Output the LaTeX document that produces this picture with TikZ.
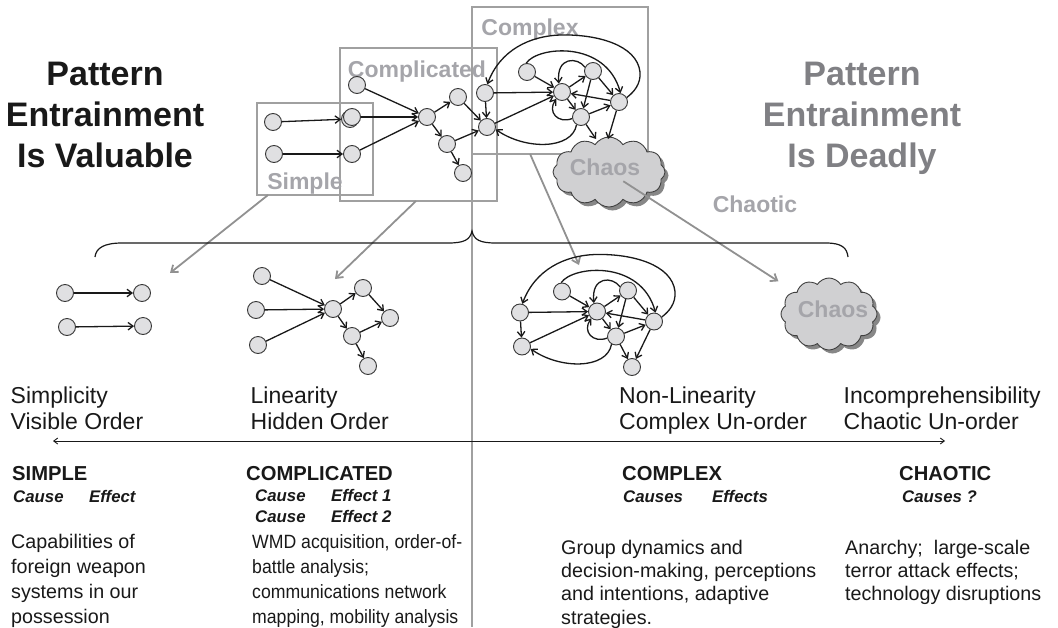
\documentclass[tikz,border=0pt]{standalone}
\usepackage{fontspec}
\setmainfont{Liberation Sans}
\newfontfamily\narrowbody[FakeStretch=0.92]{Liberation Sans}
\usetikzlibrary{arrows.meta,shapes.symbols,shadows,calc}
\definecolor{titleblack}{RGB}{25,25,25}
\definecolor{titlegray}{RGB}{128,128,132}
\definecolor{lblgray}{RGB}{165,165,170}
\definecolor{boxgray}{RGB}{160,160,160}
\definecolor{conngray}{RGB}{145,145,145}
\definecolor{nodefill}{RGB}{224,224,226}
\definecolor{nodedraw}{RGB}{55,55,55}
\definecolor{cloudfill}{RGB}{208,208,210}
\definecolor{shadowgray}{RGB}{135,135,135}
\definecolor{textblack}{RGB}{25,25,25}
\newcommand{\cxgraph}{%
\node[nd] (L1) at (485,93) {};
\node[nd] (L2) at (487,127) {};
\node[nd] (T) at (527,72) {};
\node[nd] (M) at (562,92) {};
\node[nd] (N) at (593,71) {};
\node[nd] (P) at (619,102) {};
\node[nd] (Q) at (581,117) {};
\draw[ed] (L1) -- (L2);
\draw[ed] (L1) -- (M);
\draw[ed] (L2) -- (M);
\draw[ed] (T) -- (M);
\draw[ed] (M) -- (N);
\draw[ed] (N) -- (P);
\draw[ed] (N) -- (Q);
\draw[ed] (M) -- (Q);
\draw[ed] (P) -- (M);
\draw[ed] (Q) -- (P);
\draw[ed] (P.30) .. controls (634,92) and (641,84) .. (640,72) .. controls (637,45) and (597,34) .. (560,35) .. controls (530,36) and (500,50) .. (L1.75);
\draw[ed] (T.95) .. controls (538,46) and (606,40) .. (P.80);
\draw[ed] (N.155) .. controls (578,57) and (556,56) .. (M.110);
\draw[ed] (Q.190) .. controls (558,124) and (547,112) .. (M.230);
\draw[ed] (Q.240) .. controls (572,150) and (525,150) .. (L2.-15);
}
\begin{document}
\begin{tikzpicture}[x=1pt,y=-1pt,
  nd/.style={circle,draw=nodedraw,fill=nodefill,line width=0.9pt,minimum size=17pt,inner sep=0pt},
  ed/.style={draw=black!90,line width=1.3pt,-{Straight Barb[length=5pt,width=7.5pt]}},
  box/.style={draw=boxgray,line width=1.5pt,inner sep=0pt,outer sep=0pt},
  conn/.style={draw=conngray,line width=1.8pt,-{Straight Barb[length=6pt,width=9pt]}},
  divider/.style={draw=boxgray,line width=1.4pt},
  cloudsty/.style={cloud,cloud puffs=12,cloud puff arc=115,cloud ignores aspect,draw=black!75,line width=0.9pt,fill=cloudfill,inner sep=0pt,
     drop shadow={shadow xshift=3.5pt,shadow yshift=-3.5pt,fill=shadowgray,opacity=1}},
  lbl/.style={font=\fontsize{23}{27}\selectfont\bfseries,text=lblgray,inner sep=0pt},
  ttl/.style={font=\fontsize{34}{41}\selectfont\bfseries,align=center,inner sep=0pt},
  axl/.style={font=\fontsize{23}{26}\selectfont,align=left,anchor=north west,inner sep=0pt,text=textblack},
  hd/.style={font=\fontsize{20.2}{22}\selectfont\bfseries,anchor=base west,inner sep=0pt,text=textblack},
  cs/.style={font=\fontsize{16.8}{19}\selectfont\bfseries\itshape,anchor=base west,inner sep=0pt,text=textblack},
  body/.style={font=\fontsize{19.7}{25}\selectfont,align=left,anchor=north west,inner sep=0pt,text=textblack},
  bodyn/.style={font=\narrowbody\fontsize{19.2}{25}\selectfont,align=left,anchor=north west,inner sep=0pt,text=textblack},
  bodyr/.style={font=\fontsize{19.7}{23.3}\selectfont,align=left,anchor=north west,inner sep=0pt,text=textblack}]
\useasboundingbox (0,0) rectangle (1058,627);

% boxes
\node[box,minimum width=116pt,minimum height=92pt] (simplebox) at (315,149) {};
\node[box,minimum width=157pt,minimum height=153pt] (complbox) at (418.5,124.5) {};
\node[box,minimum width=176pt,minimum height=147pt] (cxbox) at (560,80.5) {};

% divider
\coordinate (divbot) at (472,627);
\draw[divider] (cxbox.north west) -- (divbot);

% grey connectors from boxes
\coordinate (g1e) at (170,273);
\coordinate (g2e) at (335,279);
\coordinate (g3e) at (579,265);
\draw[conn] ($(simplebox.south west)!0.095!(simplebox.south east)$) -- (g1e);
\draw[conn] ($(complbox.south west)!0.484!(complbox.south east)$) -- (g2e);
\draw[conn] ($(cxbox.south west)!0.33!(cxbox.south east)$) -- (g3e);

% box labels
\node[lbl,anchor=base] (lsimple) at (305,189) {Simple};
\node[lbl,anchor=base] (lcompl) at (417,77) {Complicated};
\node[lbl,anchor=base] (lcx) at (530,35) {Complex};
\node[lbl,anchor=base] (lchaotic) at (755,212) {Chaotic};

% top simple graph
\node[nd] (s1) at (273,122) {};
\node[nd] (s2) at (274,154) {};
\node[nd] (s3) at (350,119) {};
\node[nd] (s4) at (352,154) {};
\draw[ed] (s1) -- (s3);
\draw[ed] (s2) -- (s4);

% top complicated graph
\node[nd] (c1) at (357,85) {};
\node[nd] (c2) at (352,117) {};
\node[nd] (ch) at (427,117) {};
\node[nd] (cu) at (458,97) {};
\node[nd] (cd) at (447,144) {};
\node[nd] (ce) at (463,173) {};
\draw[ed] (c1) -- (ch);
\draw[ed] (c2) -- (ch);
\draw[ed] (s4) -- (ch);
\draw[ed] (ch) -- (cu);
\draw[ed] (ch) -- (cd);
\draw[ed] (cd) -- (ce);

% top complex graph
\begin{scope}[name prefix=t-]
\cxgraph
\end{scope}
\draw[ed] (cu) -- (t-L2);
\draw[ed] (cd) -- (t-L2);

% top cloud
\node[cloudsty,minimum width=112pt,minimum height=70pt] (chaosT) at (609,172) {};
\node[lbl,anchor=base] (chaosTl) at (605,175) {Chaos};
\coordinate (ch1) at (596,139);
\coordinate (ch2) at (608,139);
\draw[ed] (t-Q) -- (ch1);
\draw[ed] (t-P) -- (ch2);

% bottom simple graph
\node[nd] (a1) at (65,293) {};
\node[nd] (b1) at (142,293) {};
\node[nd] (a2) at (67,327) {};
\node[nd] (b2) at (143,326) {};
\draw[ed] (a1) -- (b1);
\draw[ed] (a2) -- (b2);

% bottom complicated graph
\node[nd] (k1) at (262,276) {};
\node[nd] (k2) at (256,310) {};
\node[nd] (k3) at (258,345) {};
\node[nd] (kh) at (333,309) {};
\node[nd] (ku) at (363,288) {};
\node[nd] (kd) at (352,336) {};
\node[nd] (kr) at (390,318) {};
\node[nd] (ke) at (368,366) {};
\draw[ed] (k1) -- (kh);
\draw[ed] (k2) -- (kh);
\draw[ed] (k3) -- (kh);
\draw[ed] (kh) -- (ku);
\draw[ed] (kh) -- (kd);
\draw[ed] (ku) -- (kr);
\draw[ed] (kd) -- (kr);
\draw[ed] (kd) -- (ke);

% bottom complex graph
\begin{scope}[shift={(35,219.5)},name prefix=b-]
\cxgraph
\node[nd] (X) at (597,147.5) {};
\draw[ed] (Q) -- (X);
\draw[ed] (P) -- (X);
\end{scope}

% bottom cloud
\node[cloudsty,minimum width=96pt,minimum height=72pt] (chaosB) at (829,314) {};
\node[lbl,anchor=base] (chaosBl) at (833,317) {Chaos};
\draw[conn] ($(chaosT)!0.065!(chaosB)$) -- ($(chaosT)!0.77!(chaosB)$);

% brace
\draw[line width=1.2pt,black!90] (95,257) .. controls (96,248) and (104,243) .. (122,243) -- (448,243) .. controls (464,243) and (470,240) .. (472,231) .. controls (474,240) and (480,243) .. (496,243) -- (826,243) .. controls (842,243) and (847,248) .. (848,257);

% axis arrow
\coordinate (axL) at (53,441);
\coordinate (axR) at (945,441);
\draw[line width=0.9pt,black!90,{Straight Barb[length=4pt,width=6pt]}-{Straight Barb[length=4pt,width=6pt]}] (axL) -- (axR);

% titles
\node[ttl,text=titleblack,anchor=north] (titleL) at (105,59) {\rule{0pt}{26pt}Pattern\\Entrainment\\Is Valuable};
\node[ttl,text=titlegray,anchor=north] (titleR) at (862,59) {\rule{0pt}{26pt}Pattern\\Entrainment\\Is Deadly};

% axis labels
\node[axl] (ax1) at (10.5,385) {\rule{0pt}{18pt}Simplicity\\Visible Order};
\node[axl] (ax2) at (250.5,385) {\rule{0pt}{18pt}Linearity\\Hidden Order};
\node[axl] (ax3) at (619,385) {\rule{0pt}{18pt}Non-Linearity\\Complex Un-order};
\node[axl] (ax4) at (843.5,385) {\rule{0pt}{18pt}Incomprehensibility\\Chaotic Un-order};

% headings
\node[hd] (h1) at (12,480) {SIMPLE};
\node[hd] (h2) at (246,480) {COMPLICATED};
\node[hd] (h3) at (622,480) {COMPLEX};
\node[hd] (h4) at (899,480) {CHAOTIC};

% causes
\node[cs] (cs1a) at (13,502) {Cause};
\node[cs] (cs1b) at (89,502) {Effect};
\node[cs] (cs2a) at (255,501) {Cause};
\node[cs] (cs2b) at (331,501) {Effect 1};
\node[cs] (cs2c) at (255,522) {Cause};
\node[cs] (cs2d) at (331,522) {Effect 2};
\node[cs] (cs3a) at (623,502) {Causes};
\node[cs] (cs3b) at (712,502) {Effects};
\node[cs] (cs4a) at (902,502) {Causes ?};

% descriptions
\node[body] (d1) at (11,533) {\rule{0pt}{15pt}Capabilities of\\foreign weapon\\systems in our\\possession};
\node[bodyn] (d2) at (252,533) {\rule{0pt}{15pt}WMD acquisition, order-of-\\battle analysis;\\communications network\\mapping, mobility analysis};
\node[bodyr] (d3) at (561,539) {\rule{0pt}{15pt}Group dynamics and\\decision-making, perceptions\\and intentions, adaptive\\strategies.};
\node[bodyr] (d4) at (845,539) {\rule{0pt}{15pt}Anarchy;\ \ large-scale\\terror attack effects;\\technology disruptions};
\end{tikzpicture}
\end{document}
